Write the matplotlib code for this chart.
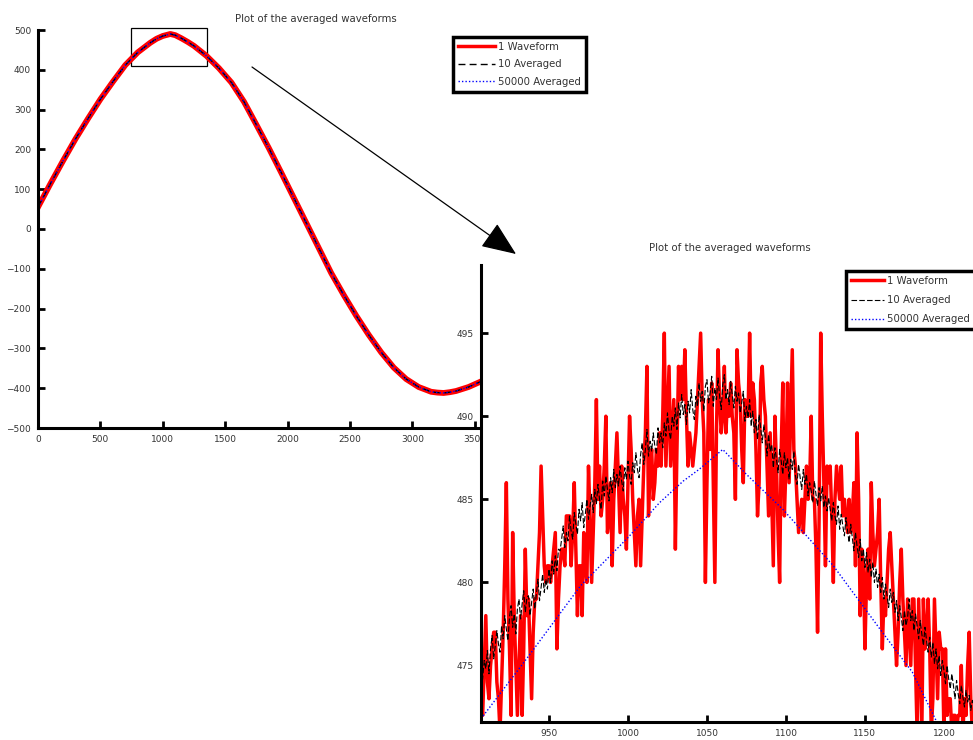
import matplotlib
matplotlib.use("Agg")
import matplotlib.pyplot as plt
from matplotlib.patches import Rectangle, FancyArrowPatch

# ---------------- data ----------------
title_text = "Plot of the averaged waveforms"
legend_labels = ["1 Waveform", "10 Averaged", "50000 Averaged"]

# full-record view (coarse samples)
main_x = [0, 100, 200, 300, 400, 500, 600, 700, 800, 900, 950, 1000, 1060, 1100, 1150,
          1200, 1250, 1350, 1450, 1550, 1650, 1750, 1850, 1950, 2050, 2150, 2250, 2350,
          2450, 2550, 2650, 2750, 2850, 2950, 3050, 3150, 3200, 3250, 3300, 3350, 3450,
          3550, 3650]
main_wave = [55, 114, 171, 226, 277, 326, 370, 412, 444, 468, 478, 485, 490, 487, 479,
             470, 460, 435, 404, 368, 320, 262, 203, 141, 78, 15, -48, -111,
             -166, -218, -266, -310, -348, -377, -397, -409, -411, -412, -410, -407, -397,
             -383, -365]
main_xticks = [0, 500, 1000, 1500, 2000, 2500, 3000, 3500, 4000]
main_yticks = [-500, -400, -300, -200, -100, 0, 100, 200, 300, 400, 500]

# zoomed view: samples 907 .. 1221
zoom_start = 907
zoom_wave = [
    473, 472, 475, 478, 474, 473, 475, 476, 477, 477,
    474, 473, 471, 474, 477, 481, 486, 479, 476, 472,
    483, 478, 475, 472, 475, 478, 472, 476, 482, 478,
    479, 476, 473, 477, 479, 479, 481, 483, 487, 484,
    481, 480, 481, 481, 480, 481, 482, 483, 476, 479,
    481, 482, 482, 481, 484, 484, 484, 481, 483, 486,
    482, 478, 481, 481, 478, 483, 481, 480, 487, 484,
    480, 483, 486, 491, 485, 487, 484, 485, 487, 490,
    483, 484, 486, 481, 485, 487, 489, 486, 483, 487,
    485, 484, 482, 486, 490, 488, 485, 483, 481, 484,
    485, 481, 484, 487, 489, 493, 484, 487, 488, 485,
    486, 488, 487, 489, 487, 490, 495, 487, 490, 493,
    487, 489, 491, 482, 488, 493, 491, 493, 491, 494,
    490, 487, 489, 488, 487, 488, 489, 491, 493, 495,
    491, 489, 480, 486, 491, 488, 492, 486, 480, 489,
    494, 491, 489, 490, 493, 489, 491, 490, 492, 490,
    489, 485, 494, 492, 491, 488, 486, 491, 490, 490,
    495, 490, 492, 491, 488, 484, 486, 492, 493, 491,
    490, 487, 484, 489, 485, 481, 490, 487, 483, 480,
    488, 492, 484, 487, 492, 486, 490, 494, 488, 487,
    485, 483, 484, 485, 483, 485, 487, 485, 486, 490,
    485, 485, 482, 477, 484, 495, 490, 486, 481, 487,
    486, 487, 484, 480, 485, 487, 486, 485, 487, 484,
    485, 484, 483, 485, 483, 484, 486, 481, 489, 485,
    478, 482, 481, 476, 480, 482, 479, 486, 483, 481,
    482, 483, 485, 480, 476, 479, 478, 480, 482, 483,
    481, 479, 477, 475, 477, 480, 482, 479, 477, 475,
    479, 477, 475, 479, 479, 475, 471, 479, 475, 471,
    479, 476, 477, 479, 476, 471, 473, 479, 476, 473,
    477, 476, 476, 471, 476, 472, 473, 473, 471, 472,
    472, 471, 472, 472, 475, 471, 473, 472, 475, 477,
    473, 471, 472, 470, 471]
zoom_avg10 = [
    473.6, 474.2, 475.3, 474.8, 475.9, 474.5, 476.0, 476.8, 475.4, 476.2,
    477.1, 476.3, 475.8, 477.4, 476.6, 478.0, 477.2, 476.5, 477.9, 478.6,
    477.3, 478.1, 476.9, 478.4, 479.0, 477.8, 478.7, 479.5, 478.2, 479.1,
    479.2, 478.0, 478.8, 479.6, 478.4, 479.3, 480.2, 478.9, 479.7, 480.5,
    479.4, 480.2, 479.6, 480.8, 480.0, 481.3, 480.5, 481.6, 480.7, 482.0,
    481.9, 482.6, 483.4, 482.1, 483.0, 482.5, 484.0, 483.1, 482.6, 484.2,
    483.5, 482.9, 484.4, 483.7, 484.8, 483.3, 484.1, 485.0, 483.8, 484.6,
    485.3, 484.2, 485.6, 484.7, 485.9, 485.0, 484.4, 486.1, 485.2, 486.4,
    485.6, 484.9, 486.3, 485.4, 486.8, 485.7, 486.5, 485.8, 487.0, 486.1,
    485.5, 486.9, 486.2, 487.3, 486.4, 485.9, 487.2, 486.6, 487.8, 486.8,
    486.3, 487.7, 488.4, 487.1, 488.0, 489.2, 487.6, 488.5, 487.9, 489.0,
    488.2, 487.7, 489.3, 488.4, 489.0, 488.1, 489.6, 488.8, 490.2, 489.1,
    488.6, 490.0, 489.4, 490.5, 489.2, 490.8, 489.9, 491.3, 490.1, 490.7,
    489.5, 490.9, 490.2, 491.6, 490.4, 489.8, 491.2, 490.6, 492.0, 490.9,
    491.5, 490.3, 491.8, 492.2, 490.8, 491.4, 492.4, 490.6, 491.7, 491.0,
    492.3, 491.2, 490.4, 491.9, 492.5, 491.0, 491.6, 490.7, 492.1, 491.3,
    490.5, 491.8, 490.9, 491.4, 490.2, 490.8, 491.5, 489.7, 490.6, 489.9,
    491.0, 489.4, 490.3, 489.0, 489.8, 488.6, 490.1, 489.3, 488.4, 489.5,
    488.7, 487.6, 488.9, 487.9, 488.3, 486.9, 488.1, 487.4, 486.6, 488.0,
    487.3, 486.5, 487.8, 486.9, 487.5, 486.2, 487.4, 486.8, 487.9, 486.4,
    485.9, 487.1, 486.3, 485.6, 486.8, 485.9, 486.5, 485.2, 486.0, 485.5,
    484.8, 486.1, 485.3, 484.6, 485.7, 484.9, 485.8, 484.5, 485.2, 484.3,
    485.1, 484.4, 483.7, 484.8, 484.0, 483.5, 484.6, 483.2, 484.1, 483.4,
    482.8, 483.9, 483.1, 482.4, 483.5, 482.7, 481.9, 483.0, 482.2, 481.5,
    482.6, 481.3, 482.0, 480.9, 481.8, 480.6, 481.4, 480.3, 481.2, 480.0,
    480.8, 479.7, 480.5, 479.4, 480.3, 479.0, 479.9, 479.2, 478.5, 479.6,
    478.8, 479.4, 478.2, 478.9, 477.7, 478.6, 477.9, 477.1, 478.3, 477.4,
    477.9, 479.0, 477.7, 478.3, 477.1, 478.1, 477.4, 476.6, 477.7, 476.9,
    476.2, 477.3, 476.5, 475.8, 476.7, 475.5, 476.4, 475.1, 476.0, 474.8,
    475.6, 474.4, 475.3, 474.7, 473.9, 475.0, 474.2, 473.6, 474.5, 473.8,
    473.0, 474.1, 473.3, 472.7, 473.8, 473.1, 472.5, 473.5, 472.8, 473.2,
    472.3, 472.9, 472.5, 472.1, 472.6]
zoom_avg_x = [907, 935, 970, 1000, 1020, 1035, 1045, 1060, 1075, 1098, 1130, 1161, 1180, 1196, 1222]
zoom_avg_y = [471.8, 475.3, 479.8, 482.7, 484.8, 486.1, 486.8, 488.0, 486.5, 484.4, 481.0, 477.0, 474.6, 471.5, 468.0]
zoom_xticks = [950, 1000, 1050, 1100, 1150, 1200]
zoom_yticks = [475, 480, 485, 490, 495]

zoom_x = list(range(zoom_start, zoom_start + len(zoom_wave)))

# ---------------- style ----------------
plt.rcParams["font.family"] = ["DejaVu Sans"]
FS_T = 7.3   # title / legend
FS_K = 6.5   # tick labels
TXT = "#333333"

W, H = 973, 740
fig = plt.figure(figsize=(W / 100, H / 100), dpi=100)
fig.patch.set_facecolor("white")


def px_axes(left, top, right, bottom):
    return fig.add_axes([left / W, 1 - bottom / H, (right - left) / W, (bottom - top) / H])


def style(ax):
    for s in ("top", "right"):
        ax.spines[s].set_visible(False)
    for s in ("left", "bottom"):
        ax.spines[s].set_linewidth(2.2)
    ax.tick_params(direction="in", length=5, width=2, labelsize=FS_K, pad=5, labelcolor=TXT)


def legend(ax, anchor, hl, ls):
    lg = ax.legend(loc="upper left", bbox_to_anchor=anchor, fontsize=FS_T, handlelength=hl,
                   fancybox=False, framealpha=1, edgecolor="black", labelspacing=ls,
                   borderpad=0.5, handletextpad=0.3, borderaxespad=0)
    lg.get_frame().set_linewidth(2.5)
    for t in lg.get_texts():
        t.set_color(TXT)
    return lg


# main axes
ax = px_axes(38, 30, 594, 428)
ax.plot(main_x, main_wave, color="red", lw=4.2, label=legend_labels[0])
ax.plot(main_x, main_wave, color="black", lw=1.0, ls=(0, (5, 3)), label=legend_labels[1])
ax.plot(main_x, main_wave, color="blue", lw=1.0, ls=(0, (1, 1.5)), label=legend_labels[2])
ax.set_xlim(0, 4455)
ax.set_ylim(-500, 500)
ax.set_xticks(main_xticks)
ax.set_yticks(main_yticks)
style(ax)
ax.set_title(title_text, fontsize=FS_T, pad=6, color=TXT)
ax.add_patch(Rectangle((745, 409.5), 609, 95.5, fill=False, lw=0.9, ec="black", clip_on=False))
lg1 = legend(ax, (0.747, 0.983), 3.6, 0.75)
lg1.get_lines()[0].set_linewidth(2.5)

# zoomed axes
ax2 = px_axes(481, 265, 979, 722)
ax2.set_facecolor("white")
ax2.plot(zoom_x, zoom_wave, color="red", lw=2.5, label=legend_labels[0])
ax2.plot(zoom_x, zoom_avg10, color="black", lw=0.8, ls=(0, (5, 2)), label=legend_labels[1])
ax2.plot(zoom_avg_x, zoom_avg_y, color="blue", lw=1.0, ls=(0, (1, 1.5)), label=legend_labels[2])
ax2.set_xlim(906.96, 1222.2)
ax2.set_ylim(471.6, 499.1)
ax2.set_xticks(zoom_xticks)
ax2.set_yticks(zoom_yticks)
style(ax2)
ax2.set_title(title_text, fontsize=FS_T, pad=10, color=TXT)
lg2 = legend(ax2, (0.733, 0.987), 3.2, 0.9)

# arrow from the box to the zoomed view
arrow = FancyArrowPatch((252 / W, 1 - 67 / H), (516 / W, 1 - 254 / H),
                        transform=fig.transFigure,
                        arrowstyle="-|>,head_length=1.45,head_width=0.6",
                        mutation_scale=15, lw=0.9, color="black", zorder=10,
                        shrinkA=0, shrinkB=0)
fig.add_artist(arrow)

fig.savefig("out.png", dpi=100)
